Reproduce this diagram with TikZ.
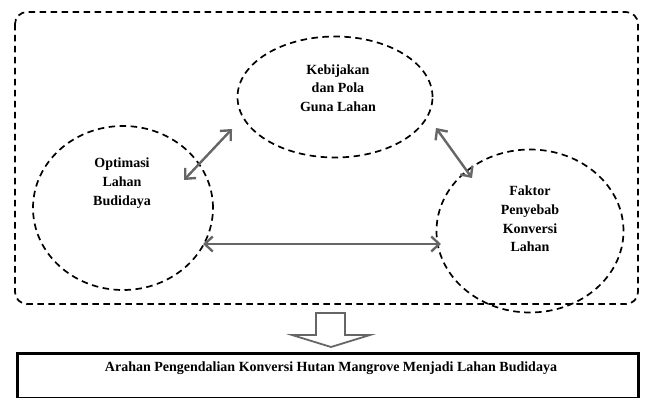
\documentclass[tikz,border=0pt]{standalone}
\usepackage{fontspec}
\setmainfont{Liberation Serif}
\usetikzlibrary{arrows.meta,shapes.geometric}
\begin{document}
\begin{tikzpicture}[x=1pt,y=-1pt,
  dashbox/.style={draw=black,line width=1.7pt,dash pattern=on 6.5pt off 4.5pt},
  elli/.style={dashbox,ellipse,inner sep=0pt},
  etxt/.style={align=center,font=\bfseries\fontsize{14}{18.7}\selectfont,inner sep=0pt},
  link/.style={draw=black!60,line width=2.4pt,{Straight Barb[length=8pt,width=15pt]}-{Straight Barb[length=8pt,width=15pt]}},
  lbl/.style={font=\bfseries\fontsize{14}{17}\selectfont}]
\useasboundingbox (0,0) rectangle (645,398);
\draw[dashbox,rounded corners=12pt] (15,12) rectangle (638,304);
\node[elli,minimum width=195pt,minimum height=121pt] (top) at (335,97) {};
\node[elli,minimum width=180pt,minimum height=164pt] (left) at (123,208) {};
\node[elli,minimum width=187pt,minimum height=163pt] (right) at (530,231) {};
\node[etxt] (toptxt) at (338,88) {Kebijakan\\dan Pola\\Guna Lahan};
\node[etxt] (lefttxt) at (122,183) {Optimasi\\Lahan\\Budidaya};
\node[etxt] (righttxt) at (530,219) {Faktor\\Penyebab\\Konversi\\Lahan};
\coordinate (a1) at (184,180); \coordinate (a2) at (232,129);
\coordinate (b1) at (436,128); \coordinate (b2) at (472,178);
\coordinate (c1) at (203,244); \coordinate (c2) at (441,244);
\draw[link] (a1) -- (a2);
\draw[link] (b1) -- (b2);
\draw[link] (c1) -- (c2);
\node[draw=black,line width=2.6pt,minimum width=621pt,minimum height=45pt,anchor=north west,inner sep=0pt] (bottom) at (16,352) {};
\node[lbl] (btxt) at (331,368) {Arahan Pengendalian Konversi Hutan Mangrove Menjadi Lahan Budidaya};
\draw[draw=black!60,line width=1.8pt,line join=miter] (316,313) -- (345,313) -- (345,335) -- (370,335) -- (331,347) -- (292,335) -- (316,335) -- cycle;
\end{tikzpicture}
\end{document}
